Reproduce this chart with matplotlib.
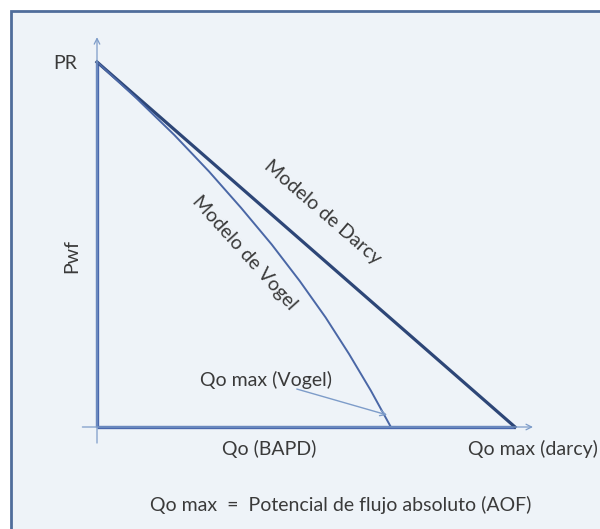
import matplotlib.pyplot as plt
from matplotlib.patches import Rectangle

plt.rcParams['font.family'] = ['Lato', 'DejaVu Sans']

# relative units: PR = 1, Qo max (darcy) = 1
pr = 1.0
qmax_darcy = 1.0

# Darcy straight line
darcy_q = [0.0, qmax_darcy]
darcy_p = [pr, 0.0]

# Vogel curve
vogel_p = [1.0, 0.9, 0.8, 0.7, 0.6, 0.5, 0.4, 0.3, 0.2, 0.1, 0.0]
vogel_q = [0.0, 0.095, 0.185, 0.268, 0.345, 0.418, 0.485, 0.547, 0.603, 0.655, 0.703]

txt = "#3a3a3a"
axis_col = "#4a68ad"
thin_col = "#7d9cc9"

fig = plt.figure(figsize=(6.0, 5.29), dpi=100)

# background frame (behind the axes)
frame = Rectangle((11 / 600, -0.1), 1.2, (529 - 11) / 529 + 0.1,
                  transform=fig.transFigure, facecolor="#eef3f8",
                  edgecolor="#4f6d9b", lw=2, zorder=-5)
fig.patches.append(frame)

ax = fig.add_axes([97 / 600, 102 / 529, 418 / 600, 365 / 529])
ax.set_xlim(0, 1)
ax.set_ylim(0, 1)
ax.axis("off")

# axes lines
ax.plot([0, 0], [0, pr], color=axis_col, lw=2.4, clip_on=False, solid_capstyle="butt")
ax.plot([0, qmax_darcy], [0, 0], color=axis_col, lw=2.4, clip_on=False, solid_capstyle="butt")
ax.annotate("", xy=(0, 1.068), xytext=(0, -0.044),
            arrowprops=dict(arrowstyle="->", color=thin_col, lw=0.9,
                            shrinkA=0, shrinkB=0), annotation_clip=False)
ax.annotate("", xy=(1.043, 0), xytext=(-0.035, 0),
            arrowprops=dict(arrowstyle="->", color=thin_col, lw=0.9,
                            shrinkA=0, shrinkB=0), annotation_clip=False)

# models
ax.plot(darcy_q, darcy_p, color="#2d4677", lw=2.3, clip_on=False)
ax.plot(vogel_q, vogel_p, color="#4a67a6", lw=1.4, clip_on=False)

# arrow to Qo max (Vogel)
ax.annotate("", xy=(0.694, 0.033), xytext=(0.478, 0.104),
            arrowprops=dict(arrowstyle="->", color=thin_col, lw=1.0,
                            shrinkA=0, shrinkB=0), annotation_clip=False)

fs = 14
ax.text(-0.077, 0.997, "PR", fontsize=fs, color=txt, ha="center", va="center")
ax.text(-0.06, 0.468, "Pwf", fontsize=fs, color=txt, ha="center", va="center",
        rotation=90)
ax.text(0.54, 0.588, "Modelo de Darcy", fontsize=fs, color=txt, ha="center",
        va="center", rotation=-41, rotation_mode="anchor")
ax.text(0.352, 0.477, "Modelo de Vogel", fontsize=fs, color=txt, ha="center",
        va="center", rotation=-48, rotation_mode="anchor")
ax.text(0.404, 0.129, "Qo max (Vogel)", fontsize=fs, color=txt, ha="center", va="center")
ax.text(0.412, -0.06, "Qo (BAPD)", fontsize=fs, color=txt, ha="center", va="center")
ax.text(0.888, -0.06, "Qo max (darcy)", fontsize=fs, color=txt, ha="left", va="center")
ax.text(0.584, -0.214, "Qo max  =  Potencial de flujo absoluto (AOF)", fontsize=fs,
        color=txt, ha="center", va="center")

fig.savefig("out.png", dpi=100)
